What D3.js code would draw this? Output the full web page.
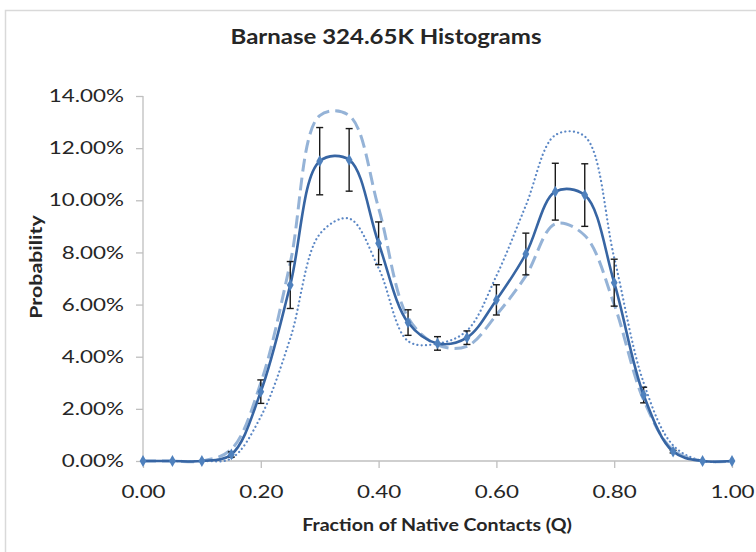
<!DOCTYPE html>
<html>
<head>
<meta charset="utf-8">
<title>Barnase 324.65K Histograms</title>
<script src="https://cdn.jsdelivr.net/npm/d3@7"></script>
<style>
  body { margin: 0; background: #fff; }
  text { font-family: Lato, "Open Sans", sans-serif; fill: #262626; }
</style>
</head>
<body>
<svg id="chart" width="756" height="552"></svg>
<script>
// Q bins (fraction of native contacts)
var qValues = [0, 0.05, 0.1, 0.15, 0.2, 0.25, 0.3, 0.35, 0.4, 0.45, 0.5,
               0.55, 0.6, 0.65, 0.7, 0.75, 0.8, 0.85, 0.9, 0.95, 1.0];

// probabilities in percent
var meanSeries   = [0, 0, 0, 0.25, 2.66, 6.75, 11.5, 11.55, 8.35, 5.31, 4.51,
                    4.73, 6.18, 7.94, 10.33, 10.2, 6.84, 2.53, 0.36, 0, 0];
var errorSeries  = [0, 0, 0, 0.1, 0.45, 0.9, 1.29, 1.2, 0.82, 0.49, 0.26,
                    0.26, 0.58, 0.8, 1.09, 1.2, 0.9, 0.3, 0.05, 0, 0];
var dashedSeries = [0, 0, 0, 0.45, 3.0, 7.6, 13.25, 13.25, 9.7, 5.5, 4.45,
                    4.4, 5.6, 7.1, 9.1, 8.65, 6.0, 2.34, 0.42, 0, 0];
var dottedSeries = [0, 0, 0, 0.1, 1.7, 4.7, 8.7, 9.3, 7.4, 4.6, 4.5,
                    5.0, 7.1, 9.8, 12.5, 12.45, 7.8, 3.0, 0.6, 0, 0];

var yTicks = [0, 2, 4, 6, 8, 10, 12, 14];
var xTicks = [0, 0.2, 0.4, 0.6, 0.8, 1.0];

var svg = d3.select("#chart");

// outer chart frame
svg.append("rect")
    .attr("x", 5.5).attr("y", 10.5)
    .attr("width", 800).attr("height", 600)
    .attr("fill", "none")
    .attr("stroke", "#d9d9d9")
    .attr("stroke-width", 1.5);

var plot = { left: 143, right: 732, top: 96, bottom: 461 };

var x = d3.scaleLinear().domain([0, 1]).range([plot.left, plot.right]);
var y = d3.scaleLinear().domain([0, 14]).range([plot.bottom, plot.top]);

// the original lettering is wide, so stretch glyphs sideways a bit
var tickStretch = 1.28;

var yAxis = d3.axisLeft(y).tickValues(yTicks).tickSize(7)
    .tickFormat(function(d) { return d3.format(".2f")(d) + "%"; });
var xAxis = d3.axisBottom(x).tickValues(xTicks).tickSize(7).tickPadding(18)
    .tickFormat(d3.format(".2f"));

var gy = svg.append("g").attr("transform", "translate(" + plot.left + ",0)").call(yAxis);
var gx = svg.append("g").attr("transform", "translate(0," + plot.bottom + ")").call(xAxis);

[gx, gy].forEach(function(g) {
  g.selectAll("path, line").attr("stroke", "#bfbfbf").attr("stroke-width", 1.3);
  g.selectAll("text").attr("font-size", 17.5).attr("fill", "#262626")
    .style("font-family", "Lato, 'Open Sans', sans-serif");
});
gy.selectAll("text").attr("x", 0)
    .attr("transform", "translate(-19,0) scale(" + tickStretch + ",1)");
gx.selectAll("text")
    .attr("transform", "scale(" + tickStretch + ",1)");
gy.select(".domain").attr("d", "M0," + plot.bottom + "V" + plot.top);
gx.select(".domain").attr("d", "M" + plot.left + ",0H" + plot.right);

// titles
svg.append("text")
    .attr("transform", "translate(386,44) scale(1.2,1)")
    .attr("text-anchor", "middle")
    .attr("font-size", 20).attr("font-weight", "bold")
    .text("Barnase 324.65K Histograms");

svg.append("text")
    .attr("transform", "translate(437,531) scale(1.12,1)")
    .attr("text-anchor", "middle")
    .attr("font-size", 17.5).attr("font-weight", "bold")
    .text("Fraction of Native Contacts (Q)");

svg.append("text")
    .attr("transform", "translate(42,267) rotate(-90) scale(1.22,1)")
    .attr("text-anchor", "middle")
    .attr("font-size", 17.5).attr("font-weight", "bold")
    .text("Probability");

function series(vals) {
  return qValues.map(function(q, i) { return { q: q, v: vals[i] }; });
}

var line = d3.line()
    .x(function(d) { return x(d.q); })
    .y(function(d) { return y(d.v); })
    .curve(d3.curveCatmullRom.alpha(0.5));

// dotted series
svg.append("path")
    .datum(series(dottedSeries))
    .attr("d", line)
    .attr("fill", "none")
    .attr("stroke", "#5b87c5")
    .attr("stroke-width", 2.2)
    .attr("stroke-linecap", "round")
    .attr("stroke-dasharray", "0.1 4.2");

// dashed series
svg.append("path")
    .datum(series(dashedSeries))
    .attr("d", line)
    .attr("fill", "none")
    .attr("stroke", "#95b3d7")
    .attr("stroke-width", 3)
    .attr("stroke-dasharray", "13 6");

// error bars
var eb = svg.append("g").attr("stroke", "#1a1a1a").attr("stroke-width", 1.4);
series(meanSeries).forEach(function(d, i) {
  var e = errorSeries[i];
  if (e <= 0) return;
  var cx = x(d.q), y0 = y(d.v - e), y1 = y(d.v + e);
  eb.append("line").attr("x1", cx).attr("x2", cx).attr("y1", y0).attr("y2", y1);
  eb.append("line").attr("x1", cx - 3.5).attr("x2", cx + 3.5).attr("y1", y0).attr("y2", y0);
  eb.append("line").attr("x1", cx - 3.5).attr("x2", cx + 3.5).attr("y1", y1).attr("y2", y1);
});

// main series
svg.append("path")
    .datum(series(meanSeries))
    .attr("d", line)
    .attr("fill", "none")
    .attr("stroke", "#3765a3")
    .attr("stroke-width", 2.6);

svg.append("g").selectAll("path")
    .data(series(meanSeries))
  .enter().append("path")
    .attr("transform", function(d) { return "translate(" + x(d.q) + "," + y(d.v) + ")"; })
    .attr("d", d3.symbol().type(d3.symbolDiamond).size(40))
    .attr("fill", "#4f81bd");
</script>
</body>
</html>
